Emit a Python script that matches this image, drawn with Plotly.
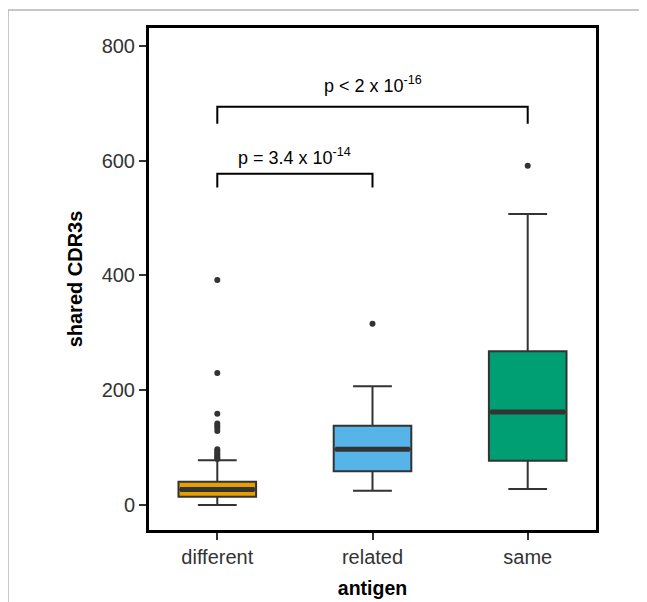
import plotly.graph_objects as go

categories = ["different", "related", "same"]
q1 = [14.5, 59, 77]
medians = [27, 97, 162]
q3 = [40.5, 138, 268]
lower_whisker = [0, 25, 28]
upper_whisker = [78, 207, 507]
outliers = [
    [392, 230, 159, 142, 138, 134, 129, 97, 94, 91, 88, 85, 82, 80],
    [316],
    [591],
]
fill_colors = ["#E69F00", "#56B4E9", "#009E73"]
y_ticks = [0, 200, 400, 600, 800]

brackets = [
    {"x0": 0, "x1": 1, "y": 577, "leg": 553, "label": "p = 3.4 x 10<sup>-14</sup>", "ty": 607},
    {"x0": 0, "x1": 2, "y": 694, "leg": 664, "label": "p < 2 x 10<sup>-16</sup>", "ty": 733},
]

BOX_W = 0.5
DARK = "#333333"
FONT = "Liberation Sans, Arial, sans-serif"

fig = go.Figure()
for i, cat in enumerate(categories):
    fig.add_trace(go.Box(
        x=[i], q1=[q1[i]], median=[medians[i]], q3=[q3[i]],
        lowerfence=[lower_whisker[i]], upperfence=[upper_whisker[i]],
        width=BOX_W, fillcolor=fill_colors[i],
        line=dict(color=DARK, width=2), boxpoints=False,
        name=cat, showlegend=False, hoverinfo="skip",
    ))
    # thicker median line (ggplot style)
    fig.add_trace(go.Scatter(
        x=[i - BOX_W / 2 + 0.01, i + BOX_W / 2 - 0.01], y=[medians[i], medians[i]],
        mode="lines", line=dict(color=DARK, width=5), showlegend=False, hoverinfo="skip",
    ))
    fig.add_trace(go.Scatter(
        x=[i] * len(outliers[i]), y=outliers[i], mode="markers",
        marker=dict(color=DARK, size=6), showlegend=False, hoverinfo="skip",
    ))

for b in brackets:
    fig.add_trace(go.Scatter(
        x=[b["x0"], b["x0"], b["x1"], b["x1"]],
        y=[b["leg"], b["y"], b["y"], b["leg"]],
        mode="lines", line=dict(color="black", width=2), showlegend=False, hoverinfo="skip",
    ))
    fig.add_annotation(
        x=(b["x0"] + b["x1"]) / 2, y=b["ty"], text=b["label"], showarrow=False,
        font=dict(family=FONT, size=18, color="black"),
    )

# page is rendered with an ~8px offset, so margins compensate
L, R, T, B = 141, 59, 20, 80
W, H = 647, 602
pw, ph = W - L - R, H - T - B
fig.add_shape(
    type="rect", xref="paper", yref="paper",
    x0=(0 - L) / pw, x1=(670 - L) / pw,
    y0=(H - B - 630) / ph, y1=(H - B - 2) / ph,
    line=dict(color="#b5b5b5", width=1.5), fillcolor="rgba(0,0,0,0)", layer="below",
)

fig.update_layout(
    width=W, height=H,
    margin=dict(l=L, r=R, t=T, b=B),
    paper_bgcolor="white", plot_bgcolor="white",
    font=dict(family=FONT, color=DARK),
    xaxis=dict(
        range=[-0.44, 2.44], tickvals=list(range(len(categories))), ticktext=categories,
        showline=True, linecolor="black", linewidth=3, mirror=True,
        ticks="outside", ticklen=7, tickwidth=2, tickcolor=DARK,
        showgrid=False, zeroline=False,
        tickfont=dict(size=20, color=DARK, family=FONT),
        title=dict(text="<b>antigen</b>", font=dict(size=19.5, color="black", family=FONT), standoff=15),
        automargin=False,
    ),
    yaxis=dict(
        range=[-43.5, 831], tickvals=y_ticks,
        showline=True, linecolor="black", linewidth=3, mirror=True,
        ticks="outside", ticklen=7, tickwidth=2, tickcolor=DARK,
        showgrid=False, zeroline=False,
        tickfont=dict(size=20, color=DARK, family=FONT),
        title=dict(text="<b>shared CDR3s</b>", font=dict(size=20, color="black", family=FONT), standoff=14),
        automargin=False,
    ),
)

fig.write_html("out.html")
